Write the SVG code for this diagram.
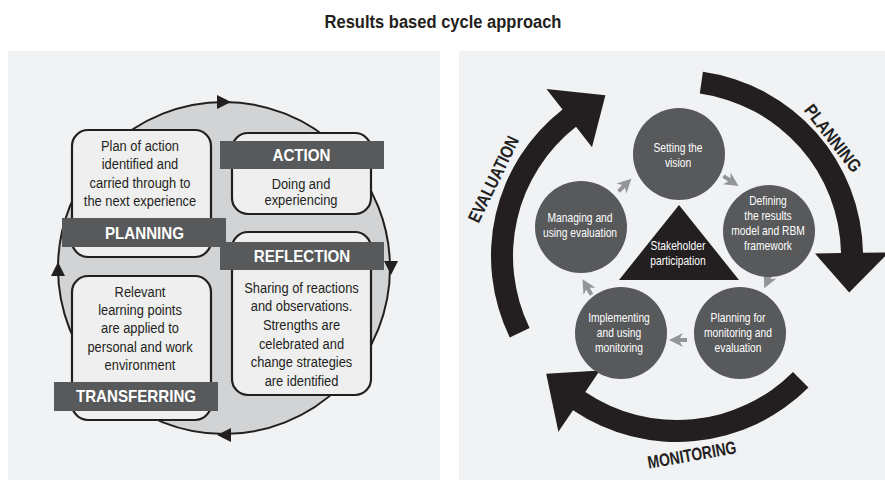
<svg xmlns="http://www.w3.org/2000/svg" xmlns:xlink="http://www.w3.org/1999/xlink" width="885" height="480" viewBox="0 0 885 480">
<defs>
<style>
.panel{fill:#f1f2f4}
.ring{fill:#d1d3d4;stroke:#231f20;stroke-width:2}
.box{fill:#efeff0;stroke:#231f20;stroke-width:2.2}
.banner{fill:#58595b}
.bt{font-family:"Liberation Sans",Arial,sans-serif;font-weight:bold;font-size:17px;fill:#ffffff;text-anchor:middle}
.tx{font-family:"Liberation Sans",Arial,sans-serif;font-size:14px;fill:#231f20;text-anchor:middle}
.node{fill:#58595b}
.nt{font-family:"Liberation Sans",Arial,sans-serif;font-size:13px;fill:#ffffff;text-anchor:middle}
.tri{fill:#231f20}
.ga{fill:#939598}
.ah{fill:#231f20}
.big{fill:#231f20}
.lbl{font-family:"Liberation Sans",Arial,sans-serif;font-weight:bold;font-size:18px;fill:#231f20;text-anchor:middle}
.title{font-family:"Liberation Sans",Arial,sans-serif;font-weight:bold;font-size:19px;fill:#231f20;text-anchor:middle}
</style>
<path id="garrow" d="M9,0 L-5,-7 L-2,-2 L-9,-2 L-9,2 L-2,2 L-5,7 Z"/>
</defs>

<rect x="0" y="0" width="885" height="480" fill="#ffffff"/>
<g id="title" transform="translate(443 0) scale(0.87 1)">
<text class="title" x="0" y="28">Results based cycle approach</text>
</g>

<rect class="panel" x="8" y="51" width="432" height="429"/>
<rect class="panel" x="459" y="51" width="426" height="429"/>

<!-- LEFT: experiential cycle -->
<g id="cycle-ring">
<circle class="ring" cx="224" cy="268" r="166"/>
</g>
<g id="left-connectors">
<polygon class="ah" points="217,95 217,109 231,102"/>
<polygon class="ah" points="384,261 398,261 391,275"/>
<polygon class="ah" points="231,428 231,442 217,435"/>
<polygon class="ah" points="51,276 65,276 58,262"/>
</g>

<g id="planning">
<rect class="box" x="72" y="130" width="139" height="127" rx="16"/>
<g transform="translate(140 0) scale(0.92 1)">
<text class="tx" x="0" y="151">Plan of action</text>
<text class="tx" x="0" y="169.5">identified and</text>
<text class="tx" x="0" y="188">carried through to</text>
<text class="tx" x="0" y="206.5">the next experience</text>
</g>
<rect class="banner" x="62" y="218" width="164" height="29"/>
<g transform="translate(144.5 0) scale(0.89 1)"><text class="bt" x="0" y="239">PLANNING</text></g>
</g>

<g id="action">
<rect class="box" x="232" y="133" width="139" height="81" rx="16"/>
<rect class="banner" x="220" y="141" width="164" height="28"/>
<g transform="translate(301.5 0) scale(0.89 1)"><text class="bt" x="0" y="161.5">ACTION</text></g>
<g transform="translate(301 0) scale(0.92 1)">
<text class="tx" x="0" y="189">Doing and</text>
<text class="tx" x="0" y="205">experiencing</text>
</g>
</g>

<g id="reflection">
<rect class="box" x="232" y="232" width="139" height="163" rx="16"/>
<rect class="banner" x="220" y="242" width="164" height="28"/>
<g transform="translate(302 0) scale(0.89 1)"><text class="bt" x="0" y="262.5">REFLECTION</text></g>
<g transform="translate(301.5 0) scale(0.92 1)">
<text class="tx" x="0" y="292.7">Sharing of reactions</text>
<text class="tx" x="0" y="311.5">and observations.</text>
<text class="tx" x="0" y="330.5">Strengths are</text>
<text class="tx" x="0" y="349">celebrated and</text>
<text class="tx" x="0" y="367.5">change strategies</text>
<text class="tx" x="0" y="386">are identified</text>
</g>
</g>

<g id="transferring">
<rect class="box" x="72" y="276" width="139" height="144" rx="16"/>
<g transform="translate(140 0) scale(0.92 1)">
<text class="tx" x="0" y="296.7">Relevant</text>
<text class="tx" x="0" y="315">learning points</text>
<text class="tx" x="0" y="333.3">are applied to</text>
<text class="tx" x="0" y="351.7">personal and work</text>
<text class="tx" x="0" y="370.5">environment</text>
</g>
<rect class="banner" x="54" y="382" width="164" height="29"/>
<g transform="translate(136 0) scale(0.89 1)"><text class="bt" x="0" y="402.5">TRANSFERRING</text></g>
</g>

<!-- RIGHT: RBM cycle -->
<g id="phase-arrows">
<path class="big" d="M509.8,337.5 A186,186 0 0 1 562.5,109.4 L546.5,88.9 L605.4,95.2 L592.0,147.3 L576.0,126.8 A164,164 0 0 0 529.6,327.9 Z"/>
<path class="big" d="M702.9,71.8 A186,186 0 0 1 863.0,252.8 L889.0,252.3 L849.2,292.6 L815.0,253.6 L841.0,253.1 A164,164 0 0 0 699.8,93.6 Z"/>
<path class="big" d="M808.5,387.5 A186,186 0 0 1 573.0,410.2 L558.4,431.7 L546.2,373.8 L599.8,370.4 L585.3,392.0 A164,164 0 0 0 793.0,372.0 Z"/>
<g transform="translate(499 182) rotate(-64) scale(0.82 1)"><text class="lbl" x="0" y="0">EVALUATION</text></g>
<g transform="translate(828 142) rotate(52) scale(0.86 1)"><text class="lbl" x="0" y="0">PLANNING</text></g>
<g transform="translate(693 461) rotate(-10) scale(0.77 1)"><text class="lbl" x="0" y="0">MONITORING</text></g>
</g>

<g id="right-connectors">
<use href="#garrow" xlink:href="#garrow" class="ga" transform="translate(625 185) rotate(-45)"/>
<use href="#garrow" xlink:href="#garrow" class="ga" transform="translate(731 181) rotate(33)"/>
<use href="#garrow" xlink:href="#garrow" class="ga" transform="translate(768 280) rotate(115)"/>
<use href="#garrow" xlink:href="#garrow" class="ga" transform="translate(678 340) rotate(180)"/>
<use href="#garrow" xlink:href="#garrow" class="ga" transform="translate(587 287) rotate(-120)"/>
</g>

<g id="setting-vision">
<circle class="node" cx="679" cy="154" r="46"/>
<g transform="translate(678 0) scale(0.79 1)">
<text class="nt" x="0" y="152.5">Setting the</text>
<text class="nt" x="0" y="167.5">vision</text>
</g>
</g>

<g id="defining-results">
<circle class="node" cx="769" cy="231" r="46"/>
<g transform="translate(768 0) scale(0.79 1)">
<text class="nt" x="0" y="205.5">Defining</text>
<text class="nt" x="0" y="220.5">the results</text>
<text class="nt" x="0" y="235.5">model and RBM</text>
<text class="nt" x="0" y="250">framework</text>
</g>
</g>

<g id="planning-me">
<circle class="node" cx="740" cy="333" r="46"/>
<g transform="translate(738 0) scale(0.79 1)">
<text class="nt" x="0" y="322.5">Planning for</text>
<text class="nt" x="0" y="337.5">monitoring and</text>
<text class="nt" x="0" y="352">evaluation</text>
</g>
</g>

<g id="implementing">
<circle class="node" cx="621" cy="333" r="46"/>
<g transform="translate(619 0) scale(0.79 1)">
<text class="nt" x="0" y="322.5">Implementing</text>
<text class="nt" x="0" y="337.5">and using</text>
<text class="nt" x="0" y="352">monitoring</text>
</g>
</g>

<g id="managing">
<circle class="node" cx="581" cy="227" r="46"/>
<g transform="translate(580 0) scale(0.79 1)">
<text class="nt" x="0" y="222.5">Managing and</text>
<text class="nt" x="0" y="237.5">using evaluation</text>
</g>
</g>

<g id="stakeholder">
<polygon class="tri" points="679,205 739,280 619,280"/>
<g transform="translate(678 0) scale(0.79 1)">
<text class="nt" x="0" y="250.5">Stakeholder</text>
<text class="nt" x="0" y="265">participation</text>
</g>
</g>
</svg>
